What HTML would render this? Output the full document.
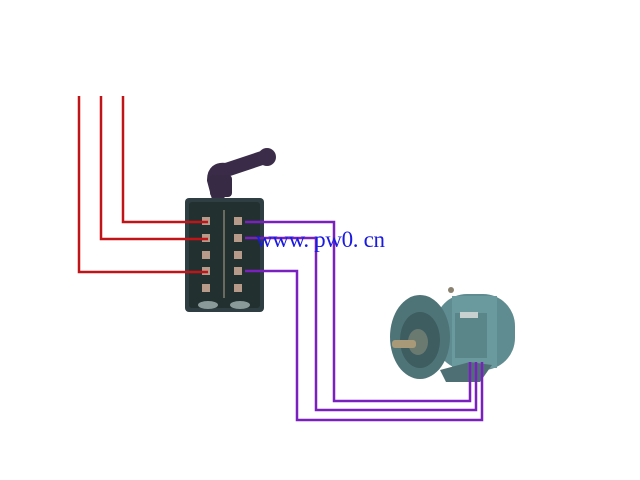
<!DOCTYPE html>
<html><head><style>body{margin:0;background:#fff}svg{display:block}</style></head><body>
<svg width="640" height="480" viewBox="0 0 640 480" xmlns="http://www.w3.org/2000/svg">
<rect width="640" height="480" fill="#fff"/>
<!-- handle -->
<path d="M218 195 L214 180 Q214 168 226 170 L262 158" stroke="#3a2c48" stroke-width="14" fill="none" stroke-linecap="round"/>
<circle cx="267" cy="157" r="9" fill="#3b2d4a"/>
<rect x="210" y="175" width="22" height="22" rx="4" fill="#362a44"/>
<!-- switch box -->
<rect x="185" y="198" width="79" height="114" rx="4" fill="#2e3e42"/>
<rect x="189" y="202" width="71" height="106" rx="3" fill="#22302f"/>
<line x1="224" y1="210" x2="224" y2="298" stroke="#6a6a60" stroke-width="2"/>
<g fill="#b89a8a">
<rect x="202" y="217" width="8" height="8"/><rect x="202" y="234" width="8" height="8"/><rect x="202" y="251" width="8" height="8"/><rect x="202" y="267" width="8" height="8"/><rect x="202" y="284" width="8" height="8"/>
<rect x="234" y="217" width="8" height="8"/><rect x="234" y="234" width="8" height="8"/><rect x="234" y="251" width="8" height="8"/><rect x="234" y="267" width="8" height="8"/><rect x="234" y="284" width="8" height="8"/>
</g>
<ellipse cx="208" cy="305" rx="10" ry="4" fill="#8a9a98"/><ellipse cx="240" cy="305" rx="10" ry="4" fill="#8a9a98"/>
<!-- motor -->
<rect x="435" y="294" width="80" height="76" rx="32" fill="#5f8c90"/>
<rect x="452" y="296" width="45" height="72" fill="#6a9a9e"/>
<rect x="455" y="313" width="32" height="45" fill="#5a8589"/>
<rect x="460" y="312" width="18" height="6" fill="#c8d0d0"/>
<circle cx="451" cy="290" r="3" fill="#8a8070"/>
<ellipse cx="420" cy="337" rx="30" ry="42" fill="#4e7478"/>
<ellipse cx="420" cy="340" rx="20" ry="28" fill="#3d5d60"/>
<ellipse cx="418" cy="342" rx="10" ry="13" fill="#6b7a70"/>
<rect x="392" y="340" width="24" height="8" rx="3" fill="#a89a78"/>
<path d="M440 370 L470 362 L492 365 L480 382 L446 382 Z" fill="#4e7074"/>
<!-- wires -->
<g stroke="#c01418" stroke-width="2.5" fill="none">
<polyline points="79,96 79,272 208,272"/>
<polyline points="101,96 101,239 208,239"/>
<polyline points="123,96 123,222 208,222"/>
</g>
<g stroke="#7a1fc0" stroke-width="2.5" fill="none">
<polyline points="245,222 334,222 334,401 470,401 470,362"/>
<polyline points="245,238 316,238 316,410 476,410 476,362"/>
<polyline points="245,271 297,271 297,420 482,420 482,362"/>
</g>
<text x="256" y="247" font-family="Liberation Serif, serif" font-size="23" fill="#1a1ae0" textLength="129" lengthAdjust="spacing">www. pw0. cn</text>
</svg>
</body></html>
